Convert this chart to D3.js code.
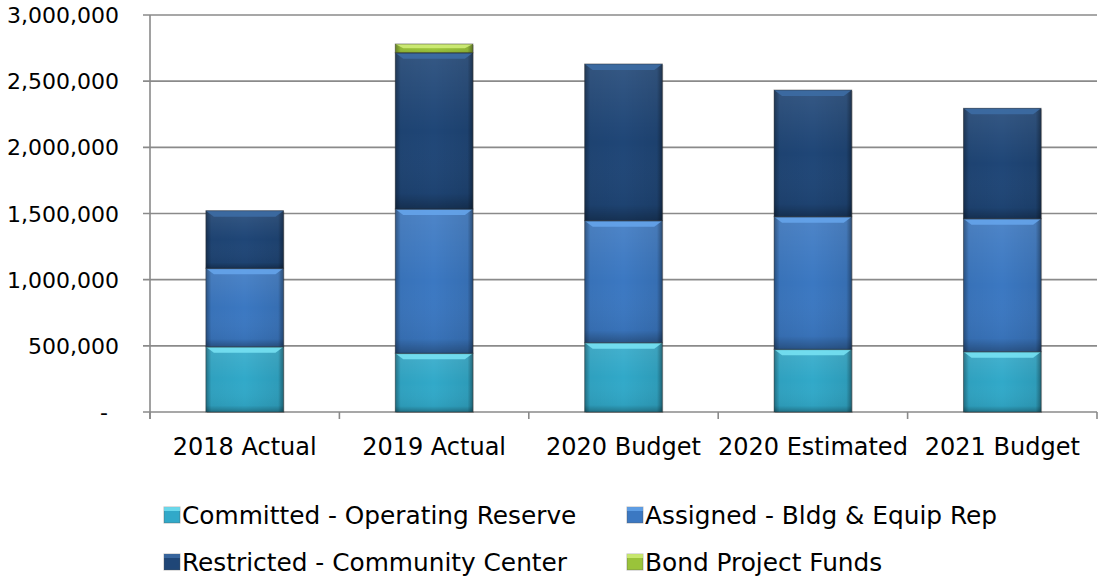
<!DOCTYPE html>
<html>
<head>
<meta charset="utf-8">
<script src="https://cdn.jsdelivr.net/npm/d3@7"></script>
<style>
  html, body { margin: 0; padding: 0; background: #fff; }
  svg { display: block; font-family: "DejaVu Sans", sans-serif; }
</style>
</head>
<body>
<svg id="chart" width="1099" height="582"></svg>
<script>
// ---- data ----
const categories = ["2018 Actual", "2019 Actual", "2020 Budget", "2020 Estimated", "2021 Budget"];
const committed  = [493000, 444000, 524000, 474000, 456000];
const assigned   = [593000, 1090000, 922000, 1002000, 1005000];
const restricted = [435000, 1181000, 1184000, 957000, 834000];
const bond       = [0, 66000, 0, 0, 0];
const seriesNames = ["Committed - Operating Reserve", "Assigned - Bldg & Equip Rep",
                     "Restricted - Community Center", "Bond Project Funds"];
const yTicks = [0, 500000, 1000000, 1500000, 2000000, 2500000, 3000000];

// ---- styling ----
const colors = ["#31A9C9", "#3B78C2", "#1F4677", "#9AC33A"];
const highlights = ["#79E4F4", "#66A6EC", "#3D6DA6", "#D2F07A"];

const svg = d3.select("#chart");
const pLeft = 150, pRight = 1097, pTop = 15, pBottom = 412;

const x = d3.scaleBand().domain(categories).range([pLeft, pRight])
  .paddingInner(0.59).paddingOuter(0.295);
const xb = d3.scaleBand().domain(categories).range([pLeft, pRight]).padding(0);
const y = d3.scaleLinear().domain([0, 3000000]).range([pBottom, pTop]);

// gradients
const defs = svg.append("defs");
const hg = defs.append("linearGradient").attr("id", "hshade").attr("x1", 0).attr("x2", 1).attr("y1", 0).attr("y2", 0);
hg.append("stop").attr("offset", "0").attr("stop-color", "#000").attr("stop-opacity", 0.35);
hg.append("stop").attr("offset", "0.07").attr("stop-color", "#000").attr("stop-opacity", 0.05);
hg.append("stop").attr("offset", "0.5").attr("stop-color", "#000").attr("stop-opacity", 0);
hg.append("stop").attr("offset", "0.93").attr("stop-color", "#000").attr("stop-opacity", 0.08);
hg.append("stop").attr("offset", "1").attr("stop-color", "#000").attr("stop-opacity", 0.4);

const vg = defs.append("linearGradient").attr("id", "vshade").attr("x1", 0).attr("x2", 0).attr("y1", 0).attr("y2", 1);
vg.append("stop").attr("offset", "0").attr("stop-color", "#fff").attr("stop-opacity", 0.10);
vg.append("stop").attr("offset", "0.5").attr("stop-color", "#fff").attr("stop-opacity", 0.0);
vg.append("stop").attr("offset", "0.9").attr("stop-color", "#000").attr("stop-opacity", 0.05);
vg.append("stop").attr("offset", "1").attr("stop-color", "#000").attr("stop-opacity", 0.3);

// gridlines
svg.append("g").selectAll("line").data(yTicks).join("line")
  .attr("x1", pLeft - 7).attr("x2", pRight)
  .attr("y1", d => y(d)).attr("y2", d => y(d))
  .attr("stroke", "#8a8a8a").attr("stroke-width", 1.6);

// y axis line
svg.append("line").attr("x1", pLeft).attr("x2", pLeft).attr("y1", pTop).attr("y2", pBottom + 7)
  .attr("stroke", "#8a8a8a").attr("stroke-width", 1.6);

// x category tick marks
const bounds = categories.map(c => xb(c)).concat([pRight]);
svg.append("g").selectAll("line").data(bounds).join("line")
  .attr("x1", d => d).attr("x2", d => d).attr("y1", pBottom).attr("y2", pBottom + 7)
  .attr("stroke", "#8a8a8a").attr("stroke-width", 1.6);

// y labels
svg.append("g").selectAll("text").data(yTicks).join("text")
  .attr("x", d => d === 0 ? 108 : 119)
  .attr("y", d => y(d) + 8)
  .attr("text-anchor", "end")
  .attr("font-size", 22).attr("fill", "#000")
  .text(d => d === 0 ? "-" : d3.format(",")(d));

// x labels
svg.append("g").selectAll("text").data(categories).join("text")
  .attr("x", d => xb(d) + xb.bandwidth() / 2)
  .attr("y", 455)
  .attr("text-anchor", "middle")
  .attr("font-size", 24).attr("fill", "#000")
  .text(d => d);

// stacked bars
const rows = categories.map((c, i) => ({cat: c, s0: committed[i], s1: assigned[i], s2: restricted[i], s3: bond[i]}));
const stack = d3.stack().keys(["s0", "s1", "s2", "s3"])(rows);

const gBars = svg.append("g");
stack.forEach((layer, k) => {
  layer.forEach(seg => {
    const v = seg[1] - seg[0];
    if (v <= 0) return;
    const cat = seg.data.cat;
    const x0 = x(cat), w = x.bandwidth();
    const y0 = y(seg[1]), h = y(seg[0]) - y(seg[1]);
    const g = gBars.append("g");
    g.append("rect").attr("x", x0 + 1).attr("y", y0 + 1).attr("width", w).attr("height", h)
      .attr("fill", "#000").attr("opacity", 0.18);
    g.append("rect").attr("x", x0).attr("y", y0).attr("width", w).attr("height", h)
      .attr("fill", colors[k]);
    g.append("rect").attr("x", x0).attr("y", y0).attr("width", w).attr("height", h)
      .attr("fill", "url(#vshade)");
    g.append("rect").attr("x", x0).attr("y", y0).attr("width", w).attr("height", h)
      .attr("fill", "url(#hshade)");
    const bh = Math.min(6, h / 2);
    g.append("path")
      .attr("d", `M${x0},${y0} L${x0 + w},${y0} L${x0 + w - 8},${y0 + bh} L${x0 + 8},${y0 + bh} Z`)
      .attr("fill", highlights[k]).attr("opacity", 0.85);
    g.append("rect").attr("x", x0).attr("y", y0).attr("width", w).attr("height", h)
      .attr("fill", "none").attr("stroke", "#2a2a2a").attr("stroke-opacity", 0.45).attr("stroke-width", 1);
  });
});

// legend
const legendPos = [
  {sx: 164, ty: 524}, {sx: 627, ty: 524},
  {sx: 164, ty: 571}, {sx: 627, ty: 571}
];
const gLeg = svg.append("g");
seriesNames.forEach((name, k) => {
  const p = legendPos[k];
  gLeg.append("rect").attr("x", p.sx).attr("y", p.ty - 17).attr("width", 16).attr("height", 16)
    .attr("fill", colors[k]).attr("stroke", "#555").attr("stroke-opacity", 0.4);
  gLeg.append("rect").attr("x", p.sx).attr("y", p.ty - 17).attr("width", 16).attr("height", 4)
    .attr("fill", highlights[k]).attr("opacity", 0.8);
  gLeg.append("text").attr("x", p.sx + 18).attr("y", p.ty)
    .attr("font-size", 24.8).attr("fill", "#000").text(name);
});
</script>
</body>
</html>
